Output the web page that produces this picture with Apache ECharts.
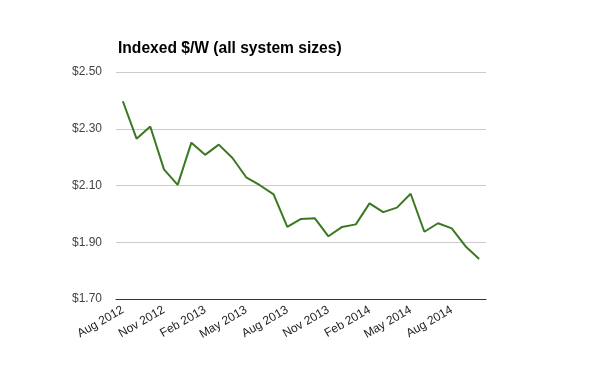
<!DOCTYPE html>
<html><head><meta charset="utf-8">
<script src="https://cdn.jsdelivr.net/npm/echarts@6/dist/echarts.min.js"></script>
<style>html,body{margin:0;padding:0;background:#fff}#c{width:600px;height:371px}</style>
</head><body><div id="c"></div>
<script>
const months = ["Aug 2012","Sep 2012","Oct 2012","Nov 2012","Dec 2012","Jan 2013","Feb 2013","Mar 2013","Apr 2013","May 2013","Jun 2013","Jul 2013","Aug 2013","Sep 2013","Oct 2013","Nov 2013","Dec 2013","Jan 2014","Feb 2014","Mar 2014","Apr 2014","May 2014","Jun 2014","Jul 2014","Aug 2014","Sep 2014","Oct 2014"];
const pricePerWatt = [2.397,2.265,2.308,2.157,2.102,2.251,2.208,2.244,2.197,2.129,2.101,2.069,1.954,1.982,1.985,1.921,1.954,1.963,2.037,2.006,2.022,2.071,1.937,1.967,1.949,1.886,1.841];
const yMin = 1.7, yMax = 2.5, yStep = 0.2;
const titleText = "Indexed $/W (all system sizes)";

const chart = echarts.init(document.getElementById('c'), null, {renderer:'canvas'});
chart.setOption({
  animation:false,
  backgroundColor:'#fff',
  title:{text:titleText,left:113,top:36,textStyle:{fontFamily:'Liberation Sans, Arial',fontSize:15.6,fontWeight:'bold',color:'#000'}},
  grid:{left:116,right:114,top:72,bottom:72,containLabel:false},
  xAxis:{type:'category',data:months,boundaryGap:true,
    axisLine:{show:true,lineStyle:{color:'#333',width:1}},
    axisTick:{show:false},
    axisLabel:{interval:2,rotate:30,margin:10,fontFamily:'Liberation Sans, Arial',fontSize:12,color:'#222'},
    splitLine:{show:false}},
  yAxis:{type:'value',min:yMin,max:yMax,interval:yStep,
    axisLine:{show:false},axisTick:{show:false},
    axisLabel:{margin:14,fontFamily:'Liberation Sans, Arial',fontSize:12,color:'#444',formatter:v=>'$'+v.toFixed(2)},
    splitLine:{show:true,lineStyle:{color:'#ccc',width:1}}},
  series:[{type:'line',data:pricePerWatt,symbol:'none',lineStyle:{color:'#3a7821',width:2},itemStyle:{color:'#3a7821'}}]
});
</script></body></html>
